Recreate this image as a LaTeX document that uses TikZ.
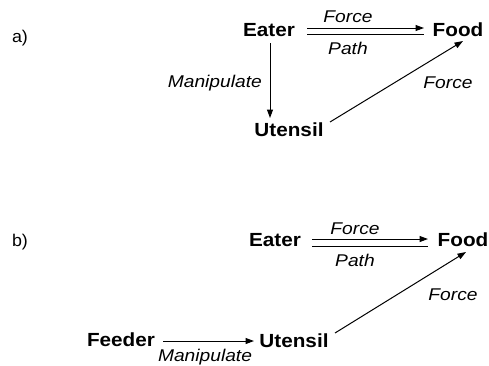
\documentclass[tikz,border=0pt]{standalone}
\usepackage{fontspec}
\setmainfont{Liberation Sans}
\newfontfamily\entfont[FakeStretch=1.09]{Liberation Sans}
\newfontfamily\labfont[FakeStretch=1.13]{Liberation Sans}
\newfontfamily\tagfont[FakeStretch=1.05]{Liberation Sans}
\usetikzlibrary{arrows.meta,calc}
\tikzset{
  ent/.style={font=\entfont\fontsize{19}{21}\selectfont\bfseries, inner sep=0pt, anchor=center},
  lab/.style={font=\labfont\fontsize{17}{19}\selectfont\itshape, inner sep=0pt},
  tag/.style={font=\tagfont\fontsize{17}{19}\selectfont, inner sep=0pt},
  con/.style={line width=1pt},
  arr/.style={con, -{Triangle[length=8.5pt,width=6pt]}},
}
\begin{document}
\begin{tikzpicture}[x=1pt,y=-1pt]
\useasboundingbox (0,0) rectangle (489,365);
% panel a
\node[tag] (ta) at (20,38) {a)};
\node[ent] (ea) at (269,30) {Eater};
\node[ent] (fa) at (458,30) {Food};
\node[ent] (ua) at (289,130) {Utensil};
\coordinate (a1s) at (307,28); \coordinate (a1e) at (424,28);
\coordinate (a2s) at (307,34); \coordinate (a2e) at (424,34);
\draw[arr] (a1s) -- (a1e);
\draw[con] (a2s) -- (a2e);
\node[lab] (fla) at (348,17) {Force};
\node[lab] (pla) at (348,48) {Path};
\draw[arr] (270,43) -- (270,118);
\node[lab, anchor=east] (mla) at (262,83) {Manipulate};
\draw[arr] (330,122) -- (463,41);
\node[lab] (fra) at (448,83) {Force};
% panel b
\node[tag] (tb) at (20,242) {b)};
\node[ent] (eb) at (275,240) {Eater};
\node[ent] (fb) at (463,240) {Food};
\node[ent] (ub) at (294,341) {Utensil};
\node[ent] (fdb) at (121,340) {Feeder};
\coordinate (b1s) at (312,239); \coordinate (b1e) at (428,239);
\coordinate (b2s) at (312,246); \coordinate (b2e) at (428,246);
\draw[arr] (b1s) -- (b1e);
\draw[con] (b2s) -- (b2e);
\node[lab] (flb) at (355,229) {Force};
\node[lab] (plb) at (355,260) {Path};
\draw[arr] (335,333) -- (466,252);
\node[lab] (frb) at (453,295) {Force};
\draw[arr] (163,341) -- (254,341);
\node[lab] (mlb) at (205,357) {Manipulate};
\end{tikzpicture}
\end{document}
